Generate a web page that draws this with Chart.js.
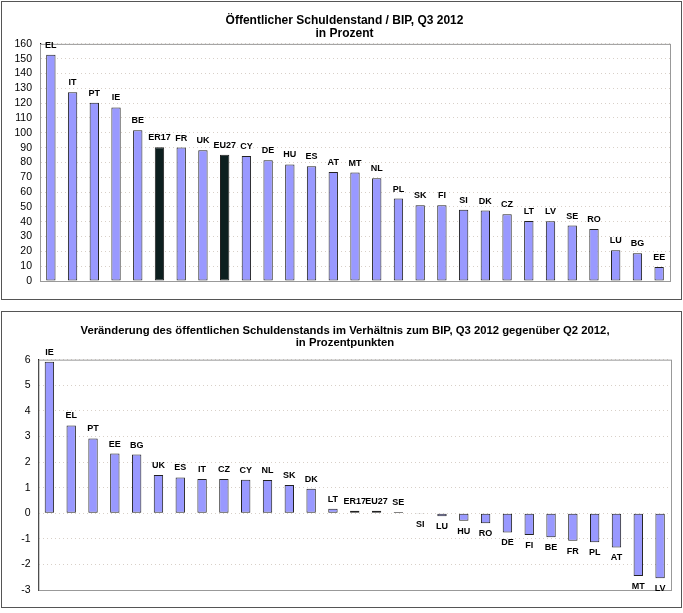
<!DOCTYPE html>
<html>
<head>
<meta charset="utf-8">
<script src="https://cdn.jsdelivr.net/npm/chart.js@4.4.1/dist/chart.umd.min.js"></script>
<style>
  body { margin: 0; background: #fff; }
  .panel { position: absolute; left: 1px; width: 679px; border: 1px solid #555; background: #fff; }
  #p1 { top: 1px; height: 297px; }
  #p2 { top: 311px; height: 295px; }
</style>
</head>
<body>
<div class="panel" id="p1"><canvas id="chartLevel"></canvas></div>
<div class="panel" id="p2"><canvas id="chartChange"></canvas></div>
<script>
// Q3 2012 debt / GDP, in percent
var levelCountries = ['EL', 'IT', 'PT', 'IE', 'BE', 'ER17', 'FR', 'UK', 'EU27', 'CY', 'DE', 'HU', 'ES', 'AT', 'MT',
    'NL', 'PL', 'SK', 'FI', 'SI', 'DK', 'CZ', 'LT', 'LV', 'SE', 'RO', 'LU', 'BG', 'EE'];
var levelValues = [152.6, 127.4, 120.3, 117.1, 101.7, 90.2, 90.0, 88.2, 85.2, 84.3, 81.4, 78.6, 77.5, 73.6, 73.2,
    69.4, 55.6, 51.1, 51.1, 48.0, 47.5, 45.0, 40.5, 40.4, 37.4, 35.1, 20.7, 18.7, 9.5];

// change Q3 2012 vs Q2 2012, in percentage points
var changeCountries = ['IE', 'EL', 'PT', 'EE', 'BG', 'UK', 'ES', 'IT', 'CZ', 'CY', 'NL', 'SK', 'DK', 'LT', 'ER17',
    'EU27', 'SE', 'SI', 'LU', 'HU', 'RO', 'DE', 'FI', 'BE', 'FR', 'PL', 'AT', 'MT', 'LV'];
var changeValues = [5.92, 3.43, 2.92, 2.33, 2.29, 1.49, 1.40, 1.34, 1.34, 1.31, 1.30, 1.10, 0.96, 0.17, 0.1,
    0.1, 0.05, -0.03, -0.12, -0.29, -0.39, -0.75, -0.85, -0.94, -1.08, -1.13, -1.34, -2.45, -2.54];

var aggregates = ['ER17', 'EU27'];

Chart.defaults.font.family = 'Arial, "Liberation Sans", sans-serif';
Chart.defaults.color = '#000';
Chart.defaults.animation = false;

function barColors(cats) {
    return cats.map(function (c) { return aggregates.indexOf(c) >= 0 ? '#0d1f1f' : '#9999ff'; });
}

// country code above (or below) each bar
var barLabels = {
    id: 'barLabels',
    afterDatasetsDraw: function (chart) {
        var ctx = chart.ctx;
        var meta = chart.getDatasetMeta(0);
        var vals = chart.data.datasets[0].data;
        ctx.save();
        ctx.font = 'bold 9px Arial, "Liberation Sans", sans-serif';
        ctx.fillStyle = '#000';
        ctx.textAlign = 'center';
        meta.data.forEach(function (bar, i) {
            if (vals[i] >= 0) {
                ctx.textBaseline = 'bottom';
                ctx.fillText(chart.data.labels[i], bar.x, bar.y - 5);
            } else {
                ctx.textBaseline = 'top';
                ctx.fillText(chart.data.labels[i], bar.x, bar.y + 6);
            }
        });
        ctx.restore();
    }
};

// grey frame round the plot area
var plotFrame = {
    id: 'plotFrame',
    beforeDatasetsDraw: function (chart) {
        var a = chart.chartArea, ctx = chart.ctx;
        ctx.save();
        ctx.strokeStyle = '#999';
        ctx.lineWidth = 1;
        ctx.strokeRect(a.left + 0.5, a.top + 0.5, a.right - a.left, a.bottom - a.top);
        ctx.restore();
    }
};

// title sits a little right of the panel centre
var titleShift = {
    id: 'titleShift',
    afterLayout: function (chart) {
        if (chart.titleBlock) chart.titleBlock.left += 17;
    }
};

function makeChart(id, cats, vals, title, yopts, layout, titleFont, titlePad, axisW) {
    return new Chart(document.getElementById(id).getContext('2d'), {
        type: 'bar',
        data: {
            labels: cats,
            datasets: [{
                data: vals,
                backgroundColor: barColors(cats),
                borderColor: '#222',
                borderWidth: 1,
                borderSkipped: false,
                barPercentage: 0.43,
                categoryPercentage: 1
            }]
        },
        options: {
            responsive: true,
            maintainAspectRatio: false,
            layout: { padding: layout },
            plugins: {
                legend: { display: false },
                tooltip: { enabled: false },
                title: {
                    display: true,
                    text: title,
                    color: '#000',
                    font: titleFont,
                    padding: titlePad
                }
            },
            scales: {
                x: {
                    ticks: { display: false },
                    grid: { display: false, drawTicks: false },
                    border: { display: true, color: '#888', width: 1 }
                },
                y: {
                    min: yopts.min,
                    max: yopts.max,
                    afterFit: function (s) { s.width = axisW; },
                    ticks: { stepSize: yopts.step, autoSkip: false, padding: 8, font: { size: 10.5 } },
                    grid: { color: '#d8d0c8', drawTicks: false },
                    border: { color: '#000', width: 1, dash: [1, 3] }
                }
            }
        },
        plugins: [plotFrame, barLabels, titleShift]
    });
}

makeChart('chartLevel', levelCountries, levelValues,
    ['Öffentlicher Schuldenstand / BIP, Q3 2012', 'in Prozent'],
    { min: 0, max: 160, step: 10 },
    { left: 0, right: 11, top: 0, bottom: 18 },
    { size: 12, weight: 'bold', lineHeight: 1.12 },
    { top: 12, bottom: 3 }, 38);

makeChart('chartChange', changeCountries, changeValues,
    ['Veränderung des öffentlichen Schuldenstands im Verhältnis zum BIP, Q3 2012 gegenüber Q2 2012,', 'in Prozentpunkten'],
    { min: -3, max: 6, step: 1 },
    { left: 0, right: 10, top: 0, bottom: 17 },
    { size: 11.3, weight: 'bold', lineHeight: 1.1 },
    { top: 12.3, bottom: 10.5 }, 36.5);
</script>
</body>
</html>
